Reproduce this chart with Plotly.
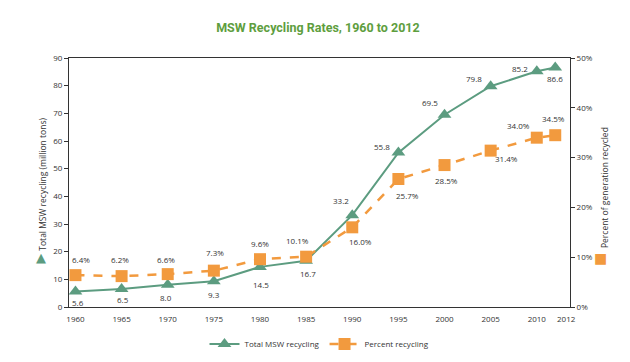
import plotly.graph_objects as go

years = [1960, 1965, 1970, 1975, 1980, 1985, 1990, 1995, 2000, 2005, 2010, 2012]
total_tons = [5.6, 6.5, 8.0, 9.3, 14.5, 16.7, 33.2, 55.8, 69.5, 79.8, 85.2, 86.6]
percent = [6.4, 6.2, 6.6, 7.3, 9.6, 10.1, 16.0, 25.7, 28.5, 31.4, 34.0, 34.5]
x_ticks = [1960, 1965, 1970, 1975, 1980, 1985, 1990, 1995, 2000, 2005, 2010]
left_ticks = [0, 10, 20, 30, 40, 50, 60, 70, 80, 90]
right_ticks = [0, 10, 20, 30, 40, 50]

# label offsets (pixels) -- styling only
ton_off = [(3, -11), (1, -10), (-2, -13), (0, -13), (1, -18), (2, -13),
           (-11, 15), (-16, 6), (-15, 12), (-17, 8), (-17, 3), (0, -11)]
pct_off = [(6, 16), (-2, 17), (-2, 15), (1, 18), (0, 16), (-9, 16),
           (8, -14), (9, -16), (2, -15), (16, -8), (-18, 12), (-2, 17)]

GREEN = "#5c9c80"
ORANGE = "#f29a3e"
TITLE_GREEN = "#5e9e3e"
TXT = "#333333"
FONT = "Open Sans"

fig = go.Figure()
fig.add_trace(go.Scatter(
    x=years, y=total_tons, name="Total MSW recycling", mode="lines+markers",
    line=dict(color=GREEN, width=2),
    marker=dict(symbol="triangle-up", size=12, color=GREEN),
    yaxis="y"))
fig.add_trace(go.Scatter(
    x=years, y=percent, name="Percent recycling", mode="lines+markers",
    line=dict(color=ORANGE, width=2.5, dash="dash"),
    marker=dict(symbol="square", size=12, color=ORANGE),
    yaxis="y2"))

ann = []
for yr, v, (dx, dy) in zip(years, total_tons, ton_off):
    ann.append(dict(x=yr, y=v, xref="x", yref="y", text=f"{v:.1f}", showarrow=False,
                    xshift=dx, yshift=dy, font=dict(size=8, color=TXT, family=FONT)))
for yr, v, (dx, dy) in zip(years, percent, pct_off):
    ann.append(dict(x=yr, y=v, xref="x", yref="y2", text=f"{v:.1f}%", showarrow=False,
                    xshift=dx, yshift=dy, font=dict(size=8, color=TXT, family=FONT)))

ann.append(dict(xref="paper", yref="paper", x=0.993, xanchor="center", y=0, yanchor="top",
                yshift=-4, text="2012", showarrow=False,
                font=dict(size=8, color=TXT, family=FONT)))
# axis titles
ann.append(dict(xref="paper", yref="paper", x=-0.052, xanchor="center", y=0.495,
                yanchor="middle", textangle=-90, text="Total MSW recycling (million tons)",
                showarrow=False, font=dict(size=8.5, color=TXT, family=FONT)))
ann.append(dict(xref="paper", yref="paper", x=-0.056, xanchor="center", y=0.2,
                yanchor="middle", text="▲", showarrow=False,
                font=dict(size=13, color=GREEN, family="DejaVu Sans")))
ann.append(dict(xref="paper", yref="paper", x=1.07, xanchor="center", y=0.478,
                yanchor="middle", textangle=-90, text="Percent of generation recycled",
                showarrow=False, font=dict(size=8.5, color=TXT, family=FONT)))
ann.append(dict(xref="paper", yref="paper", x=1.06, xanchor="center", y=0.195,
                yanchor="middle", text="■", showarrow=False,
                font=dict(size=14, color=ORANGE, family="DejaVu Sans")))

fig.update_layout(
    width=630, height=362,
    margin=dict(l=61, r=68, t=50, b=50),
    paper_bgcolor="white", plot_bgcolor="white",
    title=dict(text="<b>MSW Recycling Rates, 1960 to 2012</b>", x=0.492, xanchor="center",
               y=0.945, yanchor="middle",
               font=dict(size=12.5, color=TITLE_GREEN, family="Roboto")),
    showlegend=True,
    legend=dict(orientation="h", x=0.5, xanchor="center", y=-0.09, yanchor="top",
                font=dict(size=8, color=TXT, family=FONT), itemwidth=30),
    xaxis=dict(range=[1959.3, 2013.6], tickvals=x_ticks, showgrid=False, zeroline=False,
               showline=True, linecolor="#333", linewidth=1, mirror=True,
               ticks="outside", ticklen=4, tickcolor="rgba(0,0,0,0)",
               tickfont=dict(size=8, color=TXT, family=FONT)),
    yaxis=dict(range=[0, 90], tickvals=left_ticks, showgrid=False, zeroline=False,
               showline=True, linecolor="#333", linewidth=1, ticks="outside", ticklen=4,
               tickcolor="#333", tickfont=dict(size=8, color=TXT, family=FONT)),
    yaxis2=dict(range=[0, 50], tickvals=right_ticks, ticktext=[f"{t}%" for t in right_ticks],
                overlaying="y", side="right", showgrid=False, zeroline=False,
                showline=True, linecolor="#333", linewidth=1, ticks="outside", ticklen=4,
                tickcolor="#333", tickfont=dict(size=8, color=TXT, family=FONT)),
    annotations=ann,
)

fig.write_html("out.html")
